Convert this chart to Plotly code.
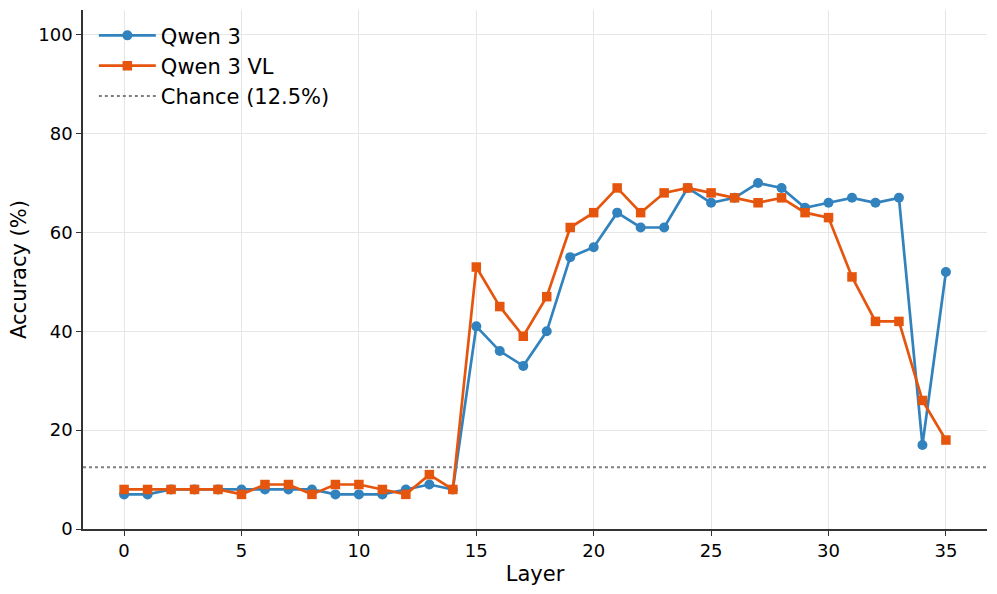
import plotly.graph_objects as go

layers = list(range(36))
qwen3 = [7, 7, 8, 8, 8, 8, 8, 8, 8, 7, 7, 7, 8, 9, 8,
         41, 36, 33, 40, 55, 57, 64, 61, 61, 69, 66, 67, 70, 69, 65, 66, 67, 66, 67, 17, 52]
qwen3_vl = [8, 8, 8, 8, 8, 7, 9, 9, 7, 9, 9, 8, 7, 11, 8,
            53, 45, 39, 47, 61, 64, 69, 64, 68, 69, 68, 67, 66, 67, 64, 63, 51, 42, 42, 26, 18]
chance = 12.5
x_ticks = [0, 5, 10, 15, 20, 25, 30, 35]
y_ticks = [0, 20, 40, 60, 80, 100]

blue = "#3182bd"
orange = "#e6550d"

fig = go.Figure()
fig.add_trace(go.Scatter(x=layers, y=qwen3, mode="lines+markers", name="Qwen 3",
                         line=dict(color=blue, width=2.7),
                         marker=dict(symbol="circle", size=10, color=blue)))
fig.add_trace(go.Scatter(x=layers, y=qwen3_vl, mode="lines+markers", name="Qwen 3 VL",
                         line=dict(color=orange, width=2.7),
                         marker=dict(symbol="square", size=9.5, color=orange)))
fig.add_trace(go.Scatter(x=[-1.75, 36.75], y=[chance, chance], mode="lines",
                         name="Chance (12.5%)",
                         line=dict(color="#808080", width=2, dash="dot")))

axis_common = dict(showline=True, linecolor="#333333", linewidth=1.5,
                   ticks="outside", ticklen=5, tickwidth=1.2, tickcolor="#333333",
                   showgrid=True, gridcolor="#e6e6e6", gridwidth=1, zeroline=False,
                   tickfont=dict(size=18, color="black"), mirror=False,
                   automargin=False)

fig.update_layout(
    width=997, height=594,
    margin=dict(l=83, r=10, t=10, b=65),
    plot_bgcolor="white", paper_bgcolor="white",
    font=dict(family="DejaVu Sans", color="black"),
    showlegend=True,
    legend=dict(x=0.012, y=0.99, xanchor="left", yanchor="top",
                bgcolor="rgba(255,255,255,0)", font=dict(size=21),
                tracegroupgap=0, itemwidth=57),
    xaxis=dict(range=[-1.75, 36.75], tickmode="array", tickvals=x_ticks,
               title=dict(text="Layer", font=dict(size=21), standoff=6),
               **axis_common),
    yaxis=dict(range=[0, 105], tickmode="array", tickvals=y_ticks,
               title=dict(text="Accuracy (%)", font=dict(size=21), standoff=6),
               **axis_common),
)

fig.write_html("out.html", config={"displayModeBar": False},
               post_script="document.body.style.margin='0';")
